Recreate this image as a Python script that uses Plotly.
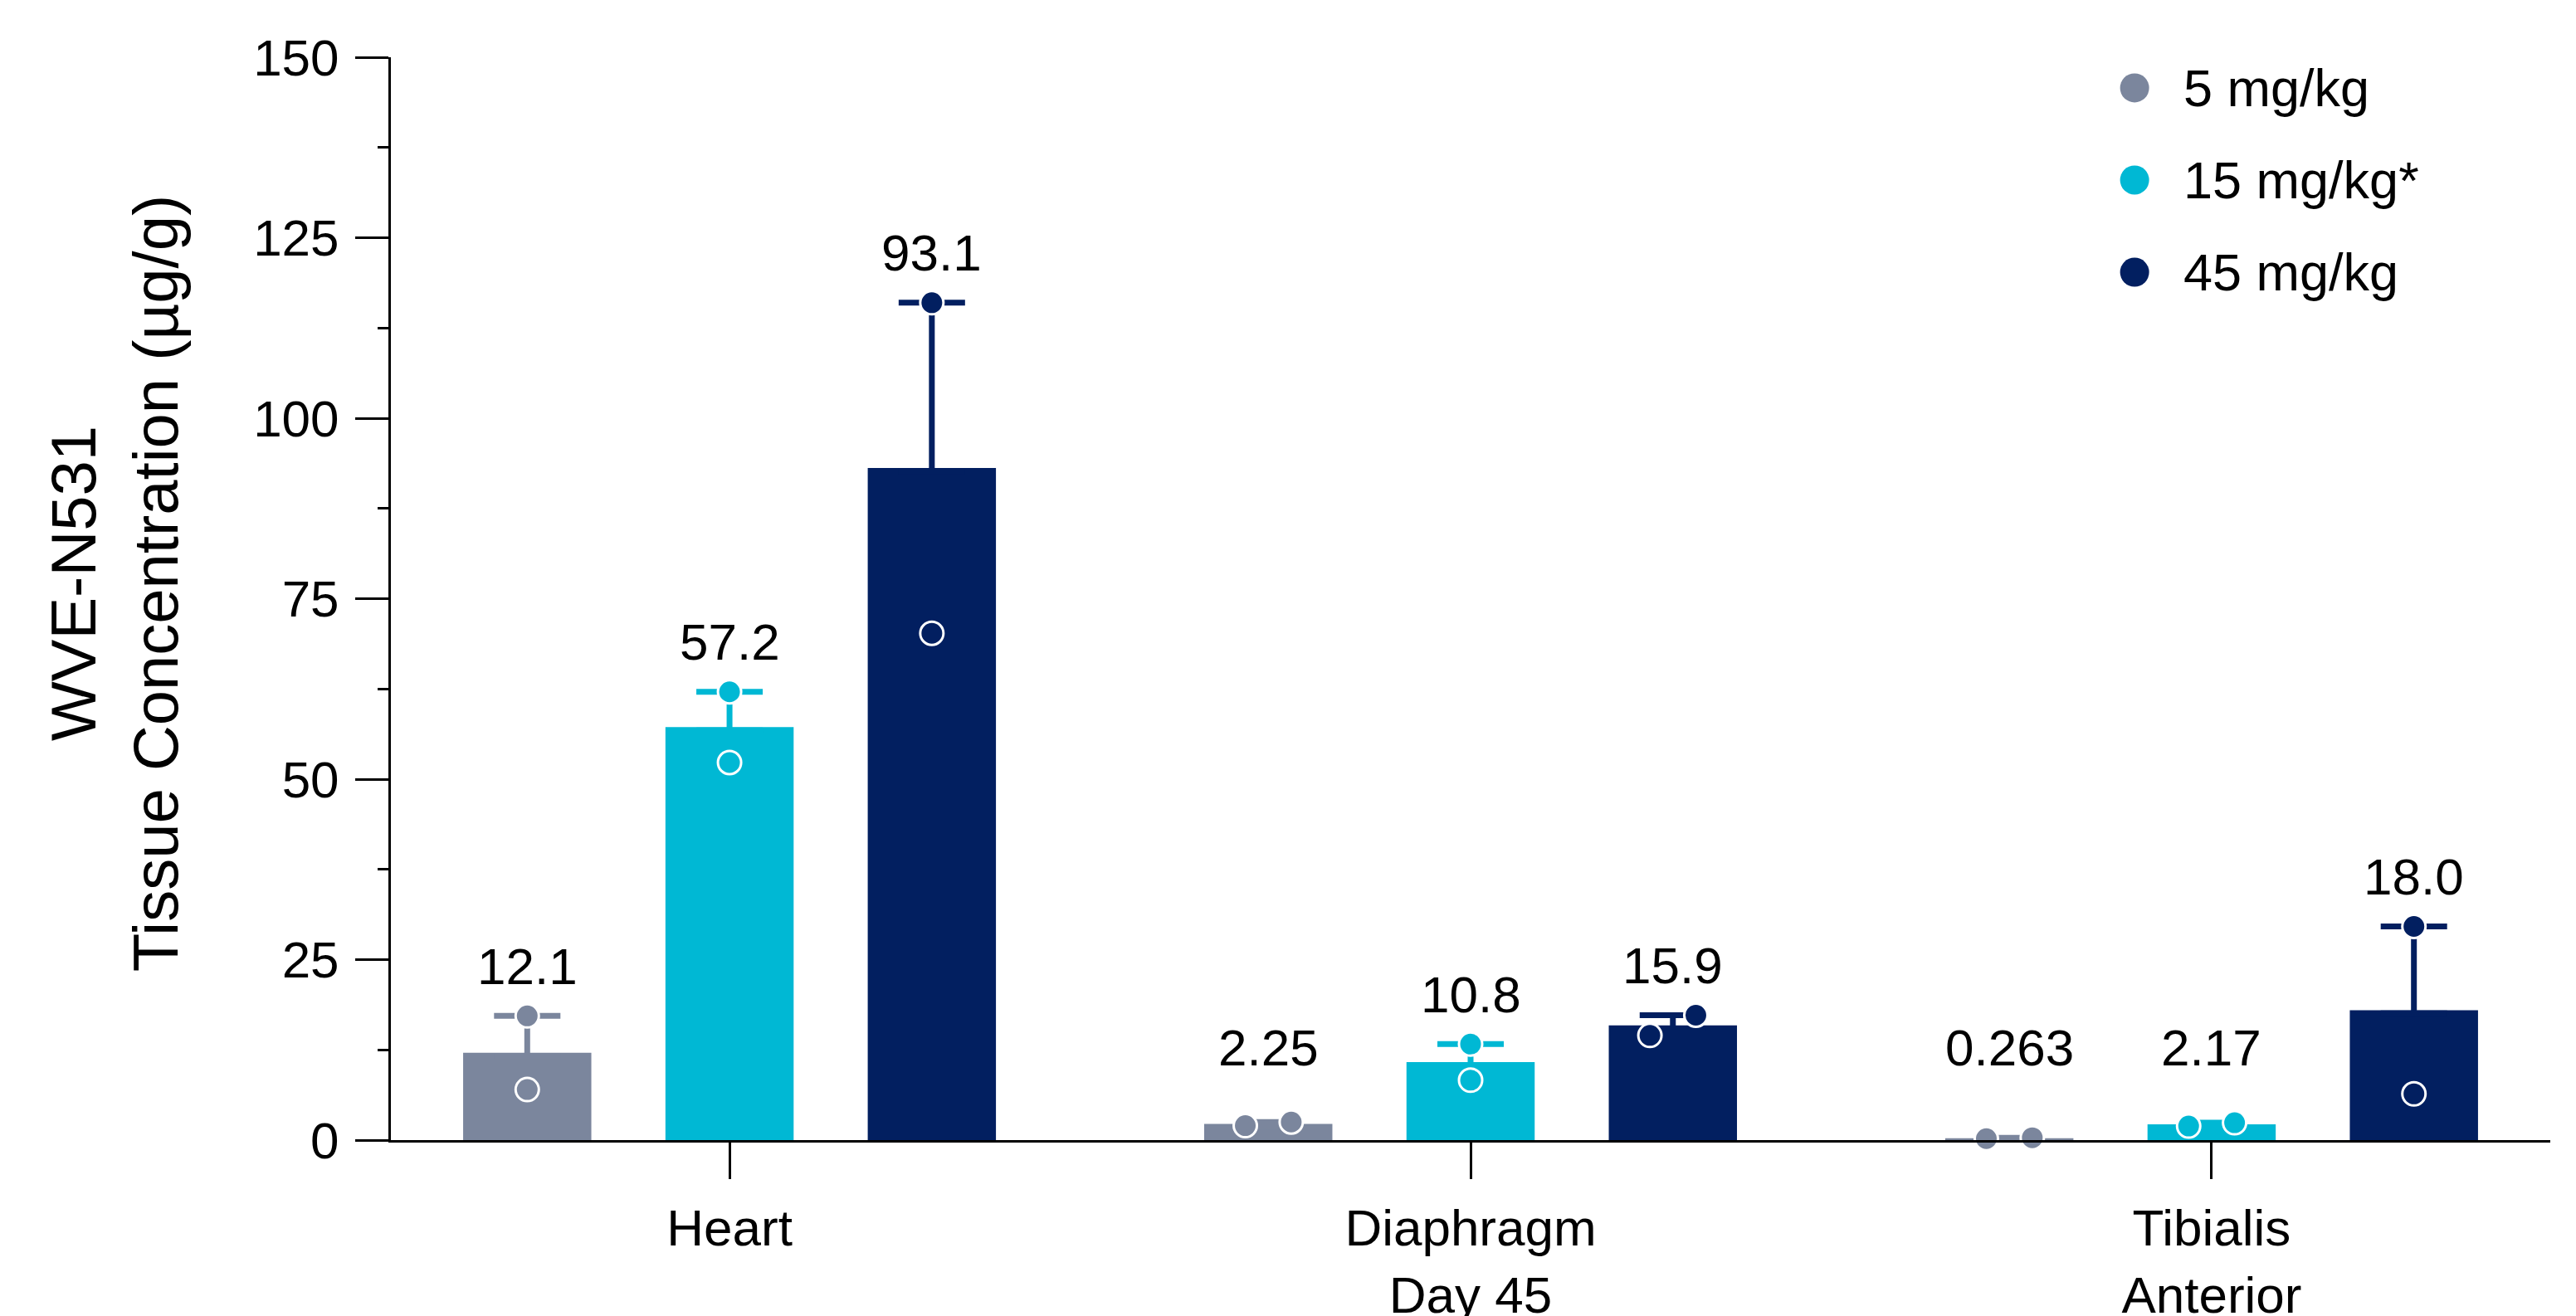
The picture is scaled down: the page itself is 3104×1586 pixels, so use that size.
import plotly.graph_objects as go

# ---------------- data ----------------
categories = ["Heart", "Diaphragm<br>Day 45", "Tibialis<br>Anterior"]
series_names = ["5 mg/kg", "15 mg/kg*", "45 mg/kg"]
colors = ["#7B869D", "#00B8D4", "#021F60"]

means_5 = [12.1, 2.25, 0.263]
means_15 = [57.2, 10.8, 2.17]
means_45 = [93.1, 15.9, 18.0]

# individual animal values (n=2 per group)
points_5 = [[17.2, 7.0], [2.0, 2.5], [0.2, 0.326]]
points_15 = [[62.1, 52.3], [13.3, 8.3], [1.94, 2.4]]
points_45 = [[116.0, 70.2], [14.5, 17.3], [29.6, 6.4]]

y_ticks = [0, 25, 50, 75, 100, 125, 150]

means_all = [means_5, means_15, means_45]
points_all = [points_5, points_15, points_45]

# ---------------- layout constants ----------------
FONT = "Liberation Sans, Arial, sans-serif"
slot = 0.273
bar_w = 0.173
jit = 0.031
shoe_hide = 0.45  # push the lower cross-bar inside the bar so it is hidden

fig = go.Figure()
annotations = []

for s, (name, col, means, pts) in enumerate(zip(series_names, colors, means_all, points_all)):
    xs = [i + (s - 1) * slot for i in range(len(categories))]
    err = [max(p) - m for p, m in zip(pts, means)]
    errminus = [min(m, shoe_hide) for m in means]
    fig.add_trace(go.Bar(
        x=xs, y=means, width=bar_w, marker=dict(color=col, line=dict(width=0)),
        name=name, showlegend=False,
        error_y=dict(type="data", symmetric=False, array=err, arrayminus=errminus,
                     color=col, thickness=7, width=40),
    ))
    px, py = [], []
    for cx, p in zip(xs, pts):
        lo, hi = min(p), max(p)
        if abs(hi - lo) < 3.5:
            px += [cx - jit, cx + jit]
        else:
            px += [cx, cx]
        py += [lo, hi]
    fig.add_trace(go.Scatter(
        x=px, y=py, mode="markers", showlegend=False, cliponaxis=False,
        marker=dict(size=28, color=col, line=dict(color="white", width=3)),
    ))
    for cx, m, p in zip(xs, means, pts):
        annotations.append(dict(
            x=cx, y=max(max(p), 5.9), xref="x", yref="y", text=f"{m:#.3g}",
            showarrow=False, yshift=60, xanchor="center", yanchor="middle",
            font=dict(family=FONT, size=62, color="black"),
        ))

# custom legend (large circular markers)
shapes = []
leg_y = [0.9717, 0.8866, 0.8015]
for name, col, ly in zip(series_names, colors, leg_y):
    shapes.append(dict(type="circle", xref="paper", yref="paper", xsizemode="pixel",
                       ysizemode="pixel", xanchor=0.8075, yanchor=ly,
                       x0=-17.5, x1=17.5, y0=-17.5, y1=17.5,
                       fillcolor=col, line=dict(width=0)))
    annotations.append(dict(x=0.8295, y=ly, xref="paper", yref="paper", text=name,
                            showarrow=False, xanchor="left", yanchor="middle",
                            font=dict(family=FONT, size=63, color="black")))

# y-axis title
annotations.append(dict(x=0, y=0.514, xref="paper", yref="paper", xshift=-333,
                        text="WVE-N531<br>Tissue Concentration (µg/g)", textangle=-90,
                        showarrow=False, xanchor="center", yanchor="middle", align="center",
                        font=dict(family=FONT, size=76, color="black")))

fig.update_layout(
    width=3104, height=1586, autosize=False,
    margin=dict(l=471, r=31, t=69, b=212, autoexpand=False),
    paper_bgcolor="white", plot_bgcolor="white",
    barmode="overlay",
    font=dict(family=FONT, color="black"),
    annotations=annotations, shapes=shapes,
    xaxis=dict(range=[-0.457, 2.457], tickmode="array", automargin=False,
               tickvals=list(range(len(categories))), ticktext=categories,
               showline=True, linecolor="black", linewidth=3,
               ticks="outside", ticklen=44, tickwidth=3, tickcolor="black",
               ticklabelstandoff=6, showgrid=False, zeroline=False,
               tickfont=dict(family=FONT, size=62, color="black")),
    yaxis=dict(range=[0, 150], tickmode="array", tickvals=y_ticks, automargin=False,
               showline=True, linecolor="black", linewidth=3,
               ticks="outside", ticklen=40, tickwidth=3, tickcolor="black",
               minor=dict(dtick=12.5, ticklen=13, tickwidth=3, ticks="outside", tickcolor="black"),
               ticklabelstandoff=7, showgrid=False, zeroline=False,
               tickfont=dict(family=FONT, size=62, color="black")),
)

fig.write_html("out.html")
